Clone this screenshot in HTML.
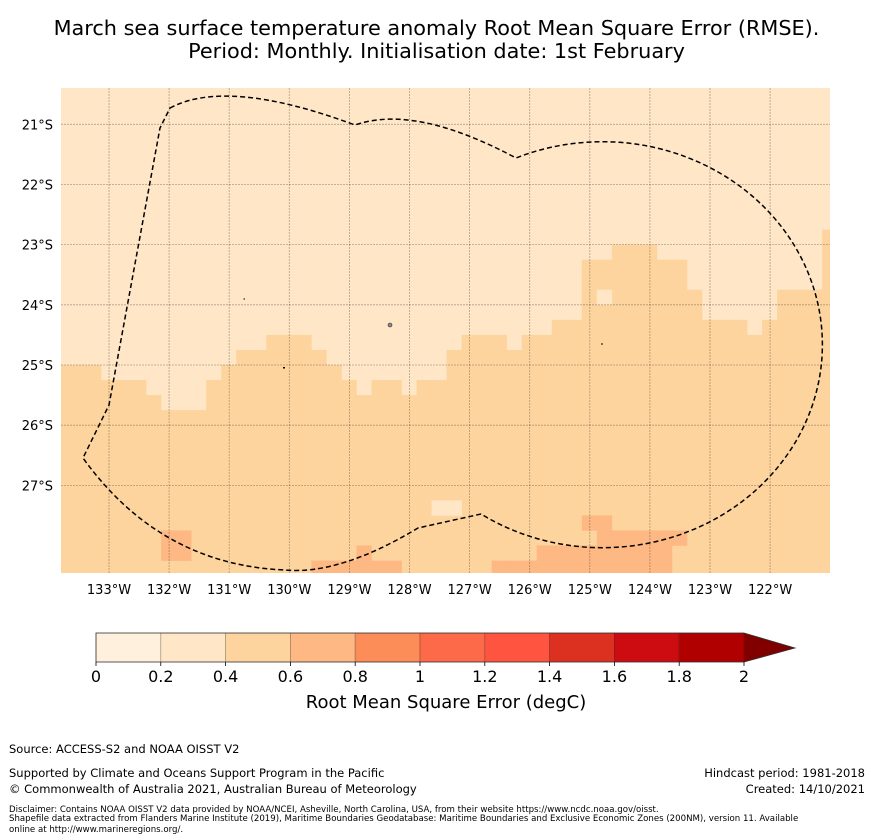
<!DOCTYPE html>
<html><head><meta charset="utf-8"><style>
body{margin:0;background:#fff;font-family:"DejaVu Sans","Liberation Sans",sans-serif;}
#wrap{position:relative;width:873px;height:839px;overflow:hidden;}
.t{position:absolute;white-space:nowrap;color:#000;}
</style></head><body>
<div id="wrap">
<div class="t" style="left:0;width:873px;top:17px;text-align:center;font-size:20.8px;line-height:23px;">March sea surface temperature anomaly Root Mean Square Error (RMSE).<br>Period: Monthly. Initialisation date: 1st February</div>
<svg id="svg" width="873" height="839" style="position:absolute;left:0;top:0">
<defs><clipPath id="mc"><rect x="61" y="88" width="769" height="485"/></clipPath></defs>
<g id="cells" clip-path="url(#mc)"></g>
<g id="grid" clip-path="url(#mc)"></g>
<g clip-path="url(#mc)">
<path d="M170,108 Q227,77.5 355,125 Q415,104 516,158 A220 203 0 1 1 481,514 L418,528 Q340,575 285,570 Q160,565 83,458 L109,405 L160,128 Z" fill="none" stroke="#000" stroke-width="1.5" stroke-dasharray="5,3"/>
<circle cx="390" cy="325" r="2" fill="#888" stroke="#333" stroke-width="0.6"/>
<rect x="243.5" y="298.5" width="1.5" height="1" fill="#000"/>
<rect x="283" y="367" width="2" height="1.5" fill="#000"/>
<rect x="601" y="343.5" width="2" height="1" fill="#000"/>
</g>
<g id="axes"></g>
<g id="cbar"></g>
</svg>
<div class="t" style="left:0;width:892px;text-align:center;top:692px;font-size:18px;">Root Mean Square Error (degC)</div>
<div class="t" style="left:9px;top:742px;font-size:11.5px;">Source: ACCESS-S2 and NOAA OISST V2</div>
<div class="t" style="left:9px;top:766px;font-size:11.5px;">Supported by Climate and Oceans Support Program in the Pacific</div>
<div class="t" style="left:9px;top:782px;font-size:11.5px;">© Commonwealth of Australia 2021, Australian Bureau of Meteorology</div>
<div class="t" style="right:8px;top:766px;font-size:11.5px;">Hindcast period: 1981-2018</div>
<div class="t" style="right:8px;top:782px;font-size:11.5px;">Created: 14/10/2021</div>
<div class="t" style="left:9px;top:806px;font-size:8.6px;line-height:9px;">Disclaimer: Contains NOAA OISST V2 data provided by NOAA/NCEI, Asheville, North Carolina, USA, from their website https://www.ncdc.noaa.gov/oisst.<br>Shapefile data extracted from Flanders Marine Institute (2019), Maritime Boundaries Geodatabase: Maritime Boundaries and Exclusive Economic Zones (200NM), version 11. Available<br><span style="line-height:13px">online at http://www.marineregions.org/.</span></div>
</div>
<script>
// Data
const boundaryLat = [25,25,25,25.25,25.25,25.25,25.5,25.75,25.75,25.75,25.25,25,24.75,24.75,24.5,24.5,24.5,24.75,25,25.25,25.5,25.25,25.25,25.5,25.25,25.25,24.75,24.5,24.5,24.5,24.75,24.5,24.5,24.25,24.25,23.25,23.25,23,23,23,23.25,23.25,23.75,24.25,24.25,24.25,24.5,24.25,23.75,23.75,23.75,22.75];
const upperVal = 0.3, lowerVal = 0.5;
const extraCol = [36,25,26,7,7,8,8,17,18,19,20,21,22,17,18,19,20,21,22,20,29,30,31,29,30,31,32,33,34,35,32,33,34,35,32,33,34,35,35,36,36,37,38,39,40,41,36,37,38,39,40,36,37,38,39,40,36,37,38,39,40];
const extraLat = [23.75,27.25,27.25,27.75,28,27.75,28,28.25,28.25,28.25,28.25,28.25,28.25,28.5,28.5,28.5,28.5,28.5,28.5,28,28.25,28.25,28.25,28.5,28.5,28.5,28,28,28,28,28.25,28.25,28.25,28.25,28.5,28.5,28.5,28.5,27.5,27.5,27.75,27.75,27.75,27.75,27.75,27.75,28,28,28,28,28,28.25,28.25,28.25,28.25,28.25,28.5,28.5,28.5,28.5,28.5];
const extraVal = [0.3,0.3,0.3,0.7,0.7,0.7,0.7,0.7,0.7,0.7,0.7,0.7,0.7,0.7,0.7,0.7,0.7,0.7,0.7,0.7,0.7,0.7,0.7,0.7,0.7,0.7,0.7,0.7,0.7,0.7,0.7,0.7,0.7,0.7,0.7,0.7,0.7,0.7,0.7,0.7,0.7,0.7,0.7,0.7,0.7,0.7,0.7,0.7,0.7,0.7,0.7,0.7,0.7,0.7,0.7,0.7,0.7,0.7,0.7,0.7,0.7];
const lonTicks = [133,132,131,130,129,128,127,126,125,124,123,122];
const latTicks = [21,22,23,24,25,26,27];
const cbTicks = [0,0.2,0.4,0.6,0.8,1,1.2,1.4,1.6,1.8,2];
const cbColors = ["#fff0de","#fee6c7","#fdd49e","#fdb883","#fc8d59","#fc6a4a","#ff5540","#dc3020","#cc0c10","#b10000"];

const lon0 = 133.883, cellDeg = 0.25;
const xS = lon => 109 + (133 - lon) * 60.1;
const yS = lat => 365 + (lat - 25) * 60.17;
const colorOf = v => cbColors[Math.max(0, Math.min(9, Math.floor(v / 0.2 + 1e-9)))];
const NS = "http://www.w3.org/2000/svg";
function mk(tag, attrs, parent){const e=document.createElementNS(NS,tag);for(const k in attrs)e.setAttribute(k,attrs[k]);parent.appendChild(e);return e;}

const cells = document.getElementById('cells');
const bg = mk('rect',{x:61,y:88,width:769,height:485,fill:colorOf(upperVal)},cells);


boundaryLat.forEach((lat,k)=>{
  const lonL = lon0 - k*cellDeg, lonR = lonL - cellDeg;
  const x1 = xS(lonL), x2 = xS(lonR), y1 = yS(lat);
  const r = mk('rect',{x:x1,y:y1,width:x2-x1+0.3,height:600-y1,fill:colorOf(lowerVal)},cells);
  
  
});
extraCol.forEach((k,i)=>{
  const lonL = lon0 - k*cellDeg, lonR = lonL - cellDeg;
  const x1 = xS(lonL), x2 = xS(lonR), y1 = yS(extraLat[i]), y2 = yS(extraLat[i]+cellDeg);
  const r = mk('rect',{x:x1,y:y1,width:x2-x1+0.3,height:y2-y1+0.3,fill:colorOf(extraVal[i])},cells);
  
  
});

const grid = document.getElementById('grid');
const axes = document.getElementById('axes');
lonTicks.forEach(l=>{
  const x = xS(l);
  const g = mk('line',{x1:x,x2:x,y1:88,y2:573,stroke:"#000","stroke-opacity":0.3,"stroke-width":0.8,"stroke-dasharray":"2,1"},grid);
  
  
  const t = mk('text',{x:x,y:594,"text-anchor":"middle","font-size":13,"font-family":"DejaVu Sans, Liberation Sans, sans-serif"},axes);
  t.textContent = l + "°W";
  
  
});
latTicks.forEach(l=>{
  const y = yS(l);
  const g = mk('line',{x1:61,x2:830,y1:y,y2:y,stroke:"#000","stroke-opacity":0.3,"stroke-width":0.8,"stroke-dasharray":"2,1"},grid);
  
  
  const t = mk('text',{x:53,y:y+5,"text-anchor":"end","font-size":13,"font-family":"DejaVu Sans, Liberation Sans, sans-serif"},axes);
  t.textContent = l + "°S";
  
  
});

const cb = document.getElementById('cbar');
const cx = v => 96 + v * 324;
cbColors.forEach((c,i)=>{
  const r = mk('rect',{x:cx(cbTicks[i]),y:633,width:cx(cbTicks[i+1])-cx(cbTicks[i]),height:29,fill:c,stroke:"rgba(0,0,0,0.25)","stroke-width":0.8},cb);
  
  
});
const ar = mk('polygon',{points:`${cx(2)},633 795,648 ${cx(2)},662`,fill:"#800000"},cb);


const fr = mk('path',{d:`M${cx(2)},633 L96,633 L96,662 L${cx(2)},662 L795,648 Z`,fill:"none",stroke:"#333","stroke-width":0.8},cb);


cbTicks.forEach(v=>{
  const x = cx(v);
  const tk = mk('line',{x1:x,x2:x,y1:662,y2:666,stroke:"#000","stroke-width":0.8},cb);
  
  
  const t = mk('text',{x:x,y:682,"text-anchor":"middle","font-size":16,"font-family":"DejaVu Sans, Liberation Sans, sans-serif"},cb);
  t.textContent = String(v);
  
  
});
</script>
</body></html>
